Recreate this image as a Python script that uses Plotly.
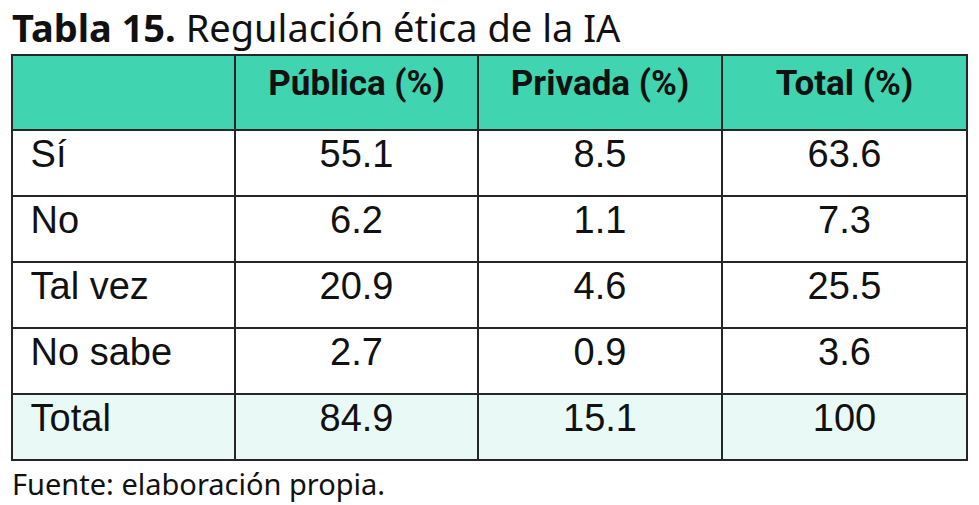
import plotly.graph_objects as go

# Table data
row_labels = ["Sí", "No", "Tal vez", "No sabe", "Total"]
publica = ["55.1", "6.2", "20.9", "2.7", "84.9"]
privada = ["8.5", "1.1", "4.6", "0.9", "15.1"]
total = ["63.6", "7.3", "25.5", "3.6", "100"]
headers = ["", "Pública (%)", "Privada (%)", "Total (%)"]

# page has an 8px body margin, so the figure is laid out 8px up/left
W, H = 971, 497

row_fill = ["white"] * 4 + ["#e9faf6"]

fig = go.Figure(go.Table(
    domain=dict(x=[4 / W, 959 / W], y=[0, 1 - 47 / H]),
    columnwidth=[223, 243, 244, 245],
    header=dict(
        values=[f"<b>{h}</b>" for h in headers],
        fill_color="#40d4b0",
        line=dict(color="#262626", width=2),
        align="center",
        height=75,
        font=dict(family="Roboto", size=35, color="#111111"),
    ),
    cells=dict(
        values=[["\u00a0" + r for r in row_labels], publica, privada, total],
        fill_color=[row_fill] * 4,
        line=dict(color="#262626", width=2),
        align=["left", "center", "center", "center"],
        height=66,
        font=dict(family="Liberation Sans, Arial", size=38, color="#111111"),
    ),
))

fig.add_annotation(
    x=2 / W, y=1 + 9 / H, xref="paper", yref="paper", xanchor="left", yanchor="top",
    text="<b>Tabla 15.</b> Regulación ética de la IA", showarrow=False,
    font=dict(family="Noto Sans", size=38, color="#111111"),
)
fig.add_annotation(
    x=2 / W, y=0, xref="paper", yref="paper", xanchor="left", yanchor="bottom",
    text="Fuente: elaboración propia.", showarrow=False,
    font=dict(family="Noto Sans", size=29, color="#111111"),
)

fig.update_layout(
    width=W, height=H,
    margin=dict(l=0, r=0, t=0, b=0),
    paper_bgcolor="white",
)

fig.write_html("out.html")
